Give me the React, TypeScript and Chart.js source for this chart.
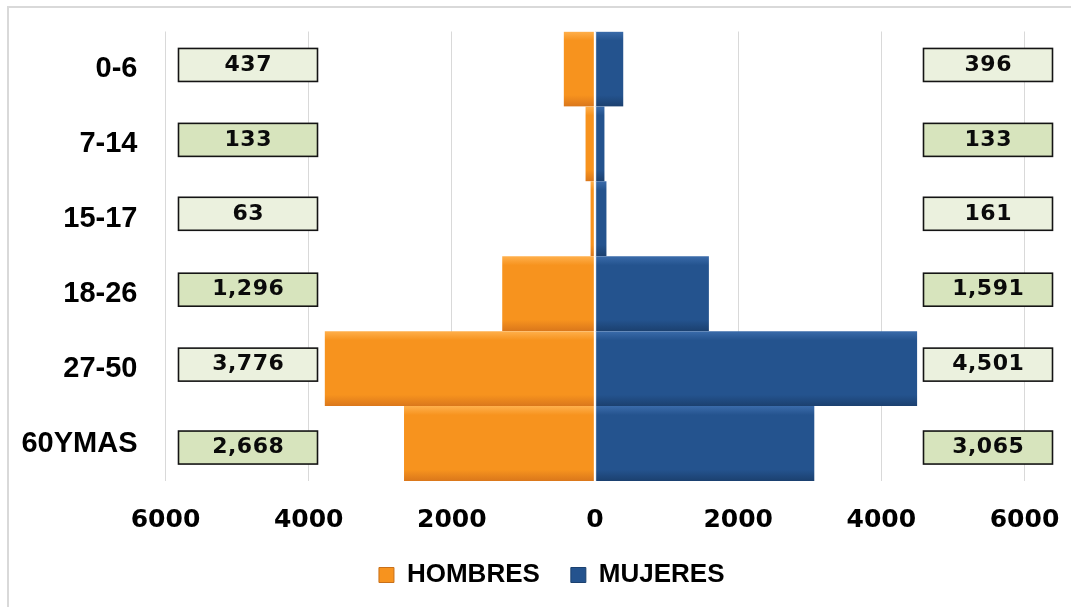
import React, { useEffect, useRef } from 'react';
import { Chart, registerables } from 'chart.js';

Chart.register(...registerables);

// ---------- data ----------
const categories = ['0-6', '7-14', '15-17', '18-26', '27-50', '60YMAS'];
const hombres = [437, 133, 63, 1296, 3776, 2668];
const mujeres = [396, 133, 161, 1591, 4501, 3065];
const xTickValues = [-6000, -4000, -2000, 0, 2000, 4000, 6000];
const seriesNames = ['HOMBRES', 'MUJERES'];

// ---------- styling ----------
const W = 1071;
const H = 598;
const ORANGE = ['#FFB04C', '#F7931E', '#DA771B'];
const BLUE = ['#3A6BAA', '#24538E', '#1B406F'];
const BOX_FILLS = ['#EBF1DE', '#D7E4BD'];
const BOX_NUDGE = [-4, -4, -5, -4, -4, 4];
const LEGEND_SHIFT = 34.5;

const barGradient = (stops: string[]) => (ctx: any) => {
  const chart = ctx.chart;
  const y = chart.scales && chart.scales.y;
  const area = chart.chartArea;
  if (!y || !area || ctx.type !== 'data') return stops[1];
  const c = y.getPixelForValue(ctx.dataIndex);
  const half = (area.bottom - area.top) / categories.length / 2;
  const g = chart.ctx.createLinearGradient(0, c - half, 0, c + half);
  g.addColorStop(0, stops[0]);
  g.addColorStop(0.12, stops[1]);
  g.addColorStop(0.85, stops[1]);
  g.addColorStop(1, stops[2]);
  return g;
};

const fmt = (v: number) => v.toLocaleString('en-US');

const drawBox = (ctx: CanvasRenderingContext2D, x0: number, x1: number, cy: number, fill: string, text: string) => {
  const h = 33;
  ctx.fillStyle = fill;
  ctx.fillRect(x0, cy - h / 2, x1 - x0, h);
  ctx.lineWidth = 1.6;
  ctx.strokeStyle = '#141414';
  ctx.strokeRect(x0, cy - h / 2, x1 - x0, h);
  ctx.fillStyle = '#0a0a0a';
  ctx.font = 'bold 22px "DejaVu Sans"';
  (ctx as any).letterSpacing = '0.5px';
  ctx.textAlign = 'center';
  ctx.textBaseline = 'middle';
  ctx.fillText(text, (x0 + x1) / 2 + 0.25, cy);
  (ctx as any).letterSpacing = '0px';
};

const boxPlugin = {
  id: 'valueBoxes',
  afterLayout(chart: any) {
    if (chart.legend) {
      chart.legend.left += LEGEND_SHIFT;
      chart.legend.right += LEGEND_SHIFT;
    }
  },
  afterDatasetsDraw(chart: any) {
    const { ctx, chartArea, scales } = chart;
    const y = scales.y;
    ctx.save();
    categories.forEach((_, i) => {
      const cy = y.getPixelForValue(i) + BOX_NUDGE[i];
      const fill = BOX_FILLS[i % 2];
      drawBox(ctx, chartArea.left + 13, chartArea.left + 152, cy, fill, fmt(hombres[i]));
      drawBox(ctx, chartArea.right - 101, chartArea.right + 28, cy, fill, fmt(mujeres[i]));
    });
    ctx.restore();
  },
};

export default function App() {
  const ref = useRef<HTMLCanvasElement>(null);

  useEffect(() => {
    if (!ref.current) return;
    const chart = new Chart(ref.current, {
      type: 'bar',
      data: {
        labels: categories,
        datasets: [
          {
            label: seriesNames[0],
            data: hombres.map((v) => -v),
            backgroundColor: barGradient(ORANGE),
            borderColor: '#ffffff',
            borderWidth: { top: 0, bottom: 0, left: 0, right: 1 },
            borderSkipped: false,
            barPercentage: 1,
            categoryPercentage: 1,
          },
          {
            label: seriesNames[1],
            data: mujeres,
            backgroundColor: barGradient(BLUE),
            borderColor: '#ffffff',
            borderWidth: { top: 0, bottom: 0, left: 1, right: 0 },
            borderSkipped: false,
            barPercentage: 1,
            categoryPercentage: 1,
          },
        ],
      },
      options: {
        indexAxis: 'y',
        responsive: false,
        animation: false,
        devicePixelRatio: 1,
        layout: { padding: { top: 31.5, left: 10, right: 46.5, bottom: 0 } },
        scales: {
          x: {
            type: 'linear',
            min: -6000,
            max: 6000,
            stacked: true,
            afterBuildTicks: (s: any) => {
              s.ticks = xTickValues.map((v) => ({ value: v }));
            },
            afterFit: (s: any) => {
              s.height = 50;
              s.paddingLeft = 0;
              s.paddingRight = 0;
            },
            ticks: {
              callback: (v: any) => String(Math.abs(Number(v))),
              font: { family: '"DejaVu Sans"', weight: 'bold', size: 25 },
              color: '#000',
              padding: 24,
              maxRotation: 0,
              autoSkip: false,
            },
            grid: { color: '#d9d9d9', lineWidth: 1, drawTicks: false },
            border: { display: false },
          },
          y: {
            type: 'category',
            stacked: true,
            afterFit: (s: any) => {
              s.width = 155.5;
              s.paddingTop = 0;
              s.paddingBottom = 0;
            },
            ticks: {
              font: { family: '"Liberation Sans"', weight: 'bold', size: 29 },
              color: '#000',
              padding: 28,
            },
            grid: { display: false, drawTicks: false },
            border: { display: false },
          },
        },
        plugins: {
          tooltip: { enabled: false },
          legend: {
            position: 'bottom',
            labels: {
              boxWidth: 15,
              boxHeight: 15,
              padding: 31,
              color: '#000',
              font: { family: '"Liberation Sans"', weight: 'bold', size: 26 },
              generateLabels: () =>
                seriesNames.map((name, i) => ({
                  text: name,
                  fillStyle: i === 0 ? ORANGE[1] : BLUE[1],
                  strokeStyle: i === 0 ? '#C8701A' : '#1B406F',
                  lineWidth: 1,
                  hidden: false,
                  datasetIndex: i,
                  fontColor: '#000',
                })),
            },
          },
        },
      },
      plugins: [boxPlugin],
    } as any);
    return () => chart.destroy();
  }, []);

  return (
    <div style={{ position: 'fixed', left: 0, top: 0, width: 1071, height: 607, overflow: 'hidden', background: '#fff' }}>
      <div
        style={{
          position: 'absolute',
          left: 7,
          top: 6,
          width: 2000,
          height: 2000,
          borderTop: '2px solid #d9d9d9',
          borderLeft: '2px solid #d9d9d9',
        }}
      />
      <div style={{ position: 'absolute', left: 0, top: 0, width: W, height: H }}>
        <canvas ref={ref} width={W} height={H} style={{ display: 'block', width: W, height: H }} />
      </div>
    </div>
  );
}
